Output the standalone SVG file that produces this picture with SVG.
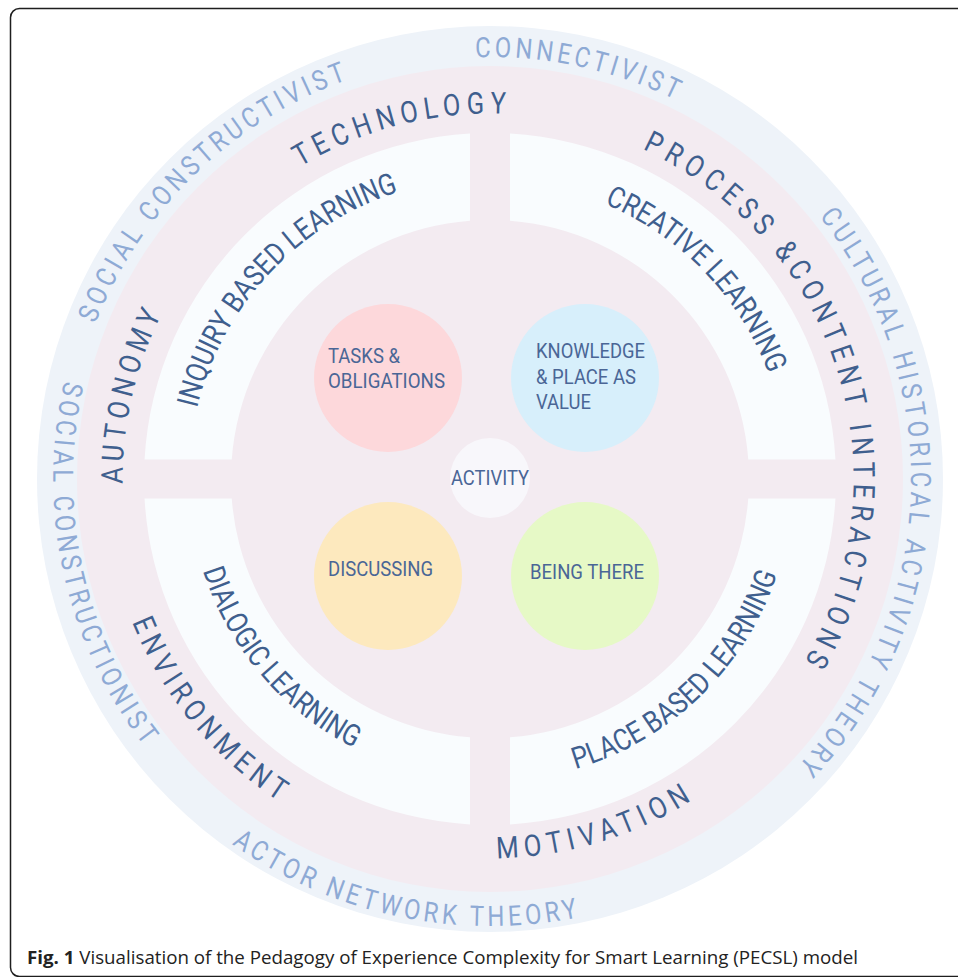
<svg xmlns="http://www.w3.org/2000/svg" xmlns:xlink="http://www.w3.org/1999/xlink" width="958" height="977" viewBox="0 0 958 977">
  <style>
    .ring-outer { fill: #eef3f9; }
    .ring-mid { fill: #f3ebf1; }
    .band { fill: #f9fcfe; }
    .lbl { font-family: Roboto, "Liberation Sans", sans-serif; }
    .theory { font-size: 28px; fill: #8eaad5; }
    .factor { font-size: 30px; fill: #3f5f8e; }
    .mode { font-size: 30px; fill: #3f5f8e; }
    .node-text { font-family: Roboto, "Liberation Sans", sans-serif; font-size: 21px; fill: #4a6696; }
    .caption { font-family: "Open Sans", "Liberation Sans", sans-serif; font-size: 17.5px; fill: #222; }
  </style>
  <defs>
    <!-- upper semicircles (text runs clockwise, mid point at top) -->
    <path id="t422" d="M 68 479 A 422 422 0 0 1 912 479"/>
    <path id="t424" d="M 66 479 A 424 424 0 0 1 914 479"/>
    <path id="t421" d="M 69 479 A 421 421 0 0 1 911 479"/>
    <path id="t365" d="M 124.5 479 A 365.5 365.5 0 0 1 855.5 479"/>
    <path id="t367" d="M 122.5 479 A 367.5 367.5 0 0 1 857.5 479"/>
    <path id="t363" d="M 126.5 479 A 363.5 363.5 0 0 1 853.5 479"/>
    <path id="t301" d="M 188.5 479 A 301.5 301.5 0 0 1 791.5 479"/>
    <path id="t298" d="M 192 479 A 298 298 0 0 1 788 479"/>
    <!-- lower semicircles (text runs counter-clockwise, mid point at bottom) -->
    <path id="b447" d="M 43 479 A 447 447 0 0 0 937 479"/>
    <path id="b437" d="M 53 479 A 437 437 0 0 0 927 479"/>
    <path id="b385" d="M 104.5 479 A 385.5 385.5 0 0 0 875.5 479"/>
    <path id="b379" d="M 110.5 479 A 379.5 379.5 0 0 0 869.5 479"/>
    <path id="b301" d="M 188.5 479 A 301.5 301.5 0 0 0 791.5 479"/>
    <path id="b302" d="M 187.5 479 A 302.5 302.5 0 0 0 792.5 479"/>
  </defs>

  <rect x="0" y="0" width="958" height="977" fill="#ffffff"/>
  <rect x="10.5" y="8.5" width="1000" height="968" rx="9" fill="none" stroke="#1e1e1e" stroke-width="1.5"/>

  <!-- concentric rings -->
  <g id="rings">
    <circle class="ring-outer" cx="490" cy="479" r="453"/>
    <circle class="ring-mid" cx="490" cy="479" r="413"/>
  </g>

  <!-- learning-mode bands, split by a cross -->
  <g id="bands">
    <path id="band-inquiry" class="band" d="M 470 133.58 A 346 346 0 0 0 144.55 459.5 L 231.74 459.5 A 259 259 0 0 1 470 220.77 Z"/>
    <path id="band-creative" class="band" d="M 510 133.58 A 346 346 0 0 1 835.45 459.5 L 748.26 459.5 A 259 259 0 0 0 510 220.77 Z"/>
    <path id="band-dialogic" class="band" d="M 470 824.42 A 346 346 0 0 1 144.55 498.5 L 231.74 498.5 A 259 259 0 0 0 470 737.23 Z"/>
    <path id="band-place" class="band" d="M 510 824.42 A 346 346 0 0 0 835.45 498.5 L 748.26 498.5 A 259 259 0 0 1 510 737.23 Z"/>
  </g>

  <!-- theory labels on the outer ring (spaced, slightly condensed capitals) -->
  <g id="theories" class="lbl theory">
    <text id="social-constructivist" transform="rotate(-43.85 490 479)" letter-spacing="4.76"><textPath xlink:href="#t424" href="#t424" startOffset="50%" text-anchor="middle" textLength="365" lengthAdjust="spacingAndGlyphs">SOCIAL CONSTRUCTIVIST</textPath></text>
    <text id="connectivist" transform="rotate(12.25 490 479)" letter-spacing="4.37"><textPath xlink:href="#t422" href="#t422" startOffset="50%" text-anchor="middle" textLength="210" lengthAdjust="spacingAndGlyphs">CONNECTIVIST</textPath></text>
    <text id="cultural-historical" transform="rotate(92.45 490 479)" letter-spacing="4.84"><textPath xlink:href="#t421" href="#t421" startOffset="50%" text-anchor="middle" textLength="603" lengthAdjust="spacingAndGlyphs">CULTURAL HISTORICAL ACTIVITY THEORY</textPath></text>
    <text id="actor-network" transform="rotate(11.7 490 479)" letter-spacing="4.6"><textPath xlink:href="#b447" href="#b447" startOffset="50%" text-anchor="middle" textLength="368" lengthAdjust="spacingAndGlyphs">ACTOR NETWORK THEORY</textPath></text>
    <text id="social-constructionist" transform="rotate(77.4 490 479)" letter-spacing="4.9"><textPath xlink:href="#b437" href="#b437" startOffset="50%" text-anchor="middle" textLength="390" lengthAdjust="spacingAndGlyphs">SOCIAL CONSTRUCTIONIST</textPath></text>
  </g>

  <!-- factor labels on the middle ring -->
  <g id="factors" class="lbl factor">
    <text id="technology" transform="rotate(-14 490 479)" letter-spacing="6.7"><textPath xlink:href="#t365" href="#t365" startOffset="50%" text-anchor="middle" textLength="221" lengthAdjust="spacingAndGlyphs">TECHNOLOGY</textPath></text>
    <text id="autonomy" transform="rotate(-76.7 490 479)" letter-spacing="6.0"><textPath xlink:href="#t367" href="#t367" startOffset="50%" text-anchor="middle" textLength="180" lengthAdjust="spacingAndGlyphs">AUTONOMY</textPath></text>
    <text id="process-content" transform="rotate(72.9 490 479)" letter-spacing="7.2"><textPath xlink:href="#t363" href="#t363" startOffset="50%" text-anchor="middle" textLength="610" lengthAdjust="spacingAndGlyphs">PROCESS &amp;CONTENT INTERACTIONS</textPath></text>
    <text id="environment" transform="rotate(50.3 490 479)" letter-spacing="6.8"><textPath xlink:href="#b385" href="#b385" startOffset="50%" text-anchor="middle" textLength="241" lengthAdjust="spacingAndGlyphs">ENVIRONMENT</textPath></text>
    <text id="motivation" transform="rotate(-17 490 479)" letter-spacing="7.0"><textPath xlink:href="#b379" href="#b379" startOffset="50%" text-anchor="middle" textLength="212" lengthAdjust="spacingAndGlyphs">MOTIVATION</textPath></text>
  </g>

  <!-- learning-mode labels in the white bands -->
  <g id="modes" class="lbl mode">
    <text id="inquiry-based" transform="rotate(-47.05 490 479)"><textPath xlink:href="#t301" href="#t301" startOffset="50%" text-anchor="middle" textLength="309" lengthAdjust="spacingAndGlyphs">INQUIRY BASED LEARNING</textPath></text>
    <text id="creative" transform="rotate(45.95 490 479)"><textPath xlink:href="#t298" href="#t298" startOffset="50%" text-anchor="middle" textLength="243" lengthAdjust="spacingAndGlyphs">CREATIVE LEARNING</textPath></text>
    <text id="dialogic" transform="rotate(49.55 490 479)"><textPath xlink:href="#b301" href="#b301" startOffset="50%" text-anchor="middle" textLength="239" lengthAdjust="spacingAndGlyphs">DIALOGIC LEARNING</textPath></text>
    <text id="place-based" transform="rotate(-44.05 490 479)"><textPath xlink:href="#b302" href="#b302" startOffset="50%" text-anchor="middle" textLength="292" lengthAdjust="spacingAndGlyphs">PLACE BASED LEARNING</textPath></text>
  </g>

  <!-- experience nodes -->
  <g id="tasks">
    <circle cx="388" cy="378" r="74" fill="#fdd8db"/>
    <text class="node-text" x="328" y="362.7" textLength="72" lengthAdjust="spacingAndGlyphs">TASKS &amp;</text>
    <text class="node-text" x="328" y="388" textLength="117" lengthAdjust="spacingAndGlyphs">OBLIGATIONS</text>
  </g>
  <g id="knowledge">
    <circle cx="585" cy="378" r="74" fill="#d7effb"/>
    <text class="node-text" x="536" y="358" textLength="109" lengthAdjust="spacingAndGlyphs">KNOWLEDGE</text>
    <text class="node-text" x="536" y="384" textLength="100" lengthAdjust="spacingAndGlyphs">&amp; PLACE AS</text>
    <text class="node-text" x="536" y="409" textLength="55" lengthAdjust="spacingAndGlyphs">VALUE</text>
  </g>
  <g id="discussing">
    <circle cx="388" cy="576" r="74" fill="#fde9be"/>
    <text class="node-text" x="328" y="576" textLength="105" lengthAdjust="spacingAndGlyphs">DISCUSSING</text>
  </g>
  <g id="being-there">
    <circle cx="585" cy="576" r="74" fill="#e6f9c6"/>
    <text class="node-text" x="530" y="579" textLength="114" lengthAdjust="spacingAndGlyphs">BEING THERE</text>
  </g>
  <g id="activity">
    <circle cx="490" cy="478" r="40" fill="#f8f7fb"/>
    <text class="node-text" x="451" y="485" font-size="22" textLength="78" lengthAdjust="spacingAndGlyphs">ACTIVITY</text>
  </g>

  <text class="caption" x="27" y="964" textLength="831" lengthAdjust="spacingAndGlyphs"><tspan font-weight="bold">Fig. 1</tspan> Visualisation of the Pedagogy of Experience Complexity for Smart Learning (PECSL) model</text>
</svg>
